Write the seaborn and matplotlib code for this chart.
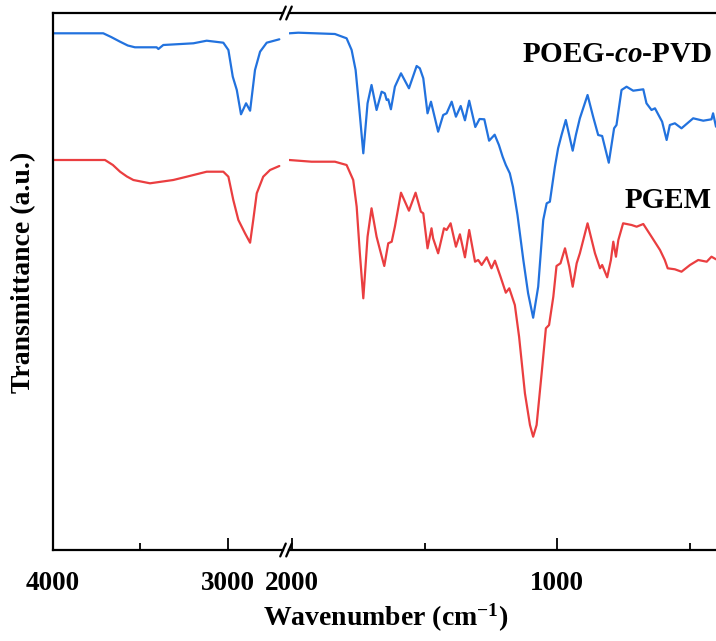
import matplotlib
matplotlib.use("Agg")
import matplotlib.pyplot as plt
import seaborn as sns
import pandas as pd

# ---------------- data ----------------
# high-wavenumber region (4000 - ~2680 cm-1)
wn_left_poeg = [4000, 3710, 3665, 3614, 3570, 3529, 3405, 3395, 3367, 3195, 3119, 3024, 2995, 2970,
                2947, 2923, 2894, 2871, 2843, 2814, 2776, 2704]
t_left_poeg = [516.7, 516.7, 513, 508.3, 504.5, 502.7, 502.7, 501, 505, 506.7, 509.3, 507.3, 500, 473.3,
               460, 435.7, 446.7, 439.3, 480, 498.3, 507.3, 510.7]

wn_left_pgem = [4000, 3700, 3655, 3614, 3575, 3538, 3443, 3310, 3233, 3119, 3024, 2995, 2967, 2938,
                2900, 2871, 2853, 2833, 2796, 2757, 2704]
t_left_pgem = [390, 390, 385, 378.3, 373.5, 370, 366.7, 370, 373.3, 378.3, 378.3, 373.3, 350, 330,
               316.7, 307.3, 330, 356.7, 373.3, 380, 384]

# fingerprint region (~2010 - 400 cm-1)
wn_right_poeg = [2010, 1976, 1838, 1794, 1775, 1760, 1748, 1731, 1715, 1700, 1681, 1662,
                 1650, 1643, 1637, 1627, 1612, 1589, 1559, 1530, 1518, 1505, 1489, 1476,
                 1449, 1430, 1417, 1398, 1382, 1364, 1348, 1332, 1309, 1293, 1275, 1257,
                 1236, 1220, 1206, 1194, 1179, 1167, 1150, 1128, 1110, 1091, 1072, 1053,
                 1040, 1028, 1009, 997, 984, 968, 942, 930, 915, 886, 865, 846, 831, 806,
                 786, 777, 758, 739, 714, 676, 664, 645, 632, 605, 588, 576, 557, 532,
                 488, 450, 419, 413, 402]
t_right_poeg = [516.7, 517.3, 516, 511.7, 500, 480, 446.7, 396.7, 446.7, 465, 440, 458.3,
                456.7, 450, 450.7, 440.7, 463.3, 476.7, 461.7, 484, 481.7, 471.7, 436.7, 448.3,
                418.3, 435, 436.7, 448.3, 433.3, 444, 429.7, 449.3, 423, 431, 430.7, 409.3,
                415.3, 405, 393.3, 385, 376.7, 363, 335, 290, 256.7, 232.3, 263.3, 330,
                346.7, 348.3, 383.3, 401.7, 415, 430, 399.3, 415, 431.7, 455, 433.3, 415, 414, 387.3,
                421.7, 425, 460, 463.3, 459.3, 460.7, 446.7, 440, 441.7, 428.3, 410, 425, 426.7, 421.7,
                431.7, 429.3, 430.7, 436.7, 423.3]

wn_right_pgem = [2010, 1926, 1838, 1794, 1769, 1756, 1744, 1731, 1715, 1700, 1681, 1668,
                 1652, 1637, 1624, 1612, 1589, 1559, 1534, 1514, 1505, 1489, 1474, 1468,
                 1449, 1427, 1417, 1402, 1382, 1367, 1348, 1332, 1310, 1298, 1285, 1266,
                 1248, 1235, 1214, 1194, 1181, 1160, 1144, 1122, 1103, 1091, 1078, 1059,
                 1043, 1031, 1015, 1003, 988, 971, 955, 942, 927, 915, 886, 858, 839, 831,
                 812, 798, 789, 779, 770, 752, 720, 701, 676, 645, 613, 595, 584, 557,
                 532, 500, 469, 437, 419, 402]
t_right_pgem = [390, 388.3, 388.3, 385, 370, 343.3, 296.7, 251.7, 313.3, 341.7, 313.3, 300,
                284, 306.7, 308.3, 323.3, 357.3, 339.3, 357.3, 338.3, 336.7, 301.7, 321.7, 311.7,
                296.7, 321.7, 320, 326.7, 303.3, 315.7, 292.7, 320, 288.3, 290, 285, 292.7,
                281.7, 289.3, 273.3, 257.3, 261.7, 245, 213.3, 156.7, 125, 113.3, 125, 176.7,
                221.7, 225, 253.3, 284, 286.7, 301.7, 283.3, 263.3, 286.7, 296.7, 326.7, 296.7, 281.7, 285,
                272.7, 290, 308.3, 293.3, 310, 326.7, 325, 323.3, 326, 313.3, 300, 290, 281.7, 280.7,
                278.3, 285, 290, 288.3, 293.3, 290.7]

series_names = ["POEG-co-PVD", "PGEM"]
label_poeg = r"POEG-$\mathbfit{co}$-PVD"
label_pgem = "PGEM"
xticks_left = [4000, 3000]
xticks_right = [2000, 1000]
minor_left = [3500]
minor_right = [1500, 500]

# ---------------- style ----------------
sns.set_style("white")
plt.rcParams["font.family"] = ["Liberation Serif", "DejaVu Serif"]
plt.rcParams["font.weight"] = "bold"
plt.rcParams["text.color"] = "black"
plt.rcParams["axes.labelcolor"] = "black"
plt.rcParams["xtick.color"] = "black"
plt.rcParams["ytick.color"] = "black"
plt.rcParams["mathtext.fontset"] = "custom"
plt.rcParams["mathtext.rm"] = "Liberation Serif:bold"
plt.rcParams["mathtext.it"] = "Liberation Serif:italic:bold"
plt.rcParams["mathtext.bf"] = "Liberation Serif:bold"
plt.rcParams["mathtext.bfit"] = "Liberation Serif:italic:bold"

BLUE = "#2272DE"
RED = "#EA3E40"

W, H = 716, 641
fig = plt.figure(figsize=(W / 100, H / 100), dpi=100)
bottom = 1 - 550 / H
height = (550 - 13) / H
axL = fig.add_axes([52.5 / W, bottom, (283 - 52.5) / W, height])
axR = fig.add_axes([289 / W, bottom, (716 - 289) / W, height])

def frame(wn, t, name):
    return pd.DataFrame({"wn": wn, "T": t, "sample": name})

dfL = pd.concat([frame(wn_left_poeg, t_left_poeg, series_names[0]),
                 frame(wn_left_pgem, t_left_pgem, series_names[1])])
dfR = pd.concat([frame(wn_right_poeg, t_right_poeg, series_names[0]),
                 frame(wn_right_pgem, t_right_pgem, series_names[1])])
pal = {series_names[0]: BLUE, series_names[1]: RED}

for ax, df in [(axL, dfL), (axR, dfR)]:
    sns.lineplot(data=df, x="wn", y="T", hue="sample", palette=pal, sort=False,
                 estimator=None, linewidth=1.6, legend=False, ax=ax)
    ax.set_ylim(0, 537)
    ax.set_xlabel("")
    ax.set_ylabel("")
    ax.set_yticks([])
    for s in ax.spines.values():
        s.set_linewidth(1.6)
        s.set_color("black")
    ax.spines["right"].set_visible(False)
    ax.tick_params(axis="x", which="major", direction="in", length=9, width=1.3,
                   labelsize=19.5, pad=15, bottom=True, top=False, colors="black")
    ax.tick_params(axis="x", which="minor", direction="in", length=5, width=1.3,
                   bottom=True, top=False, colors="black")

axL.set_xlim(4000, 2683)
axR.set_xlim(2011, 402)
axR.spines["left"].set_visible(False)
axR.tick_params(axis="y", left=False)
axL.set_xticks(xticks_left)
axL.set_xticks(minor_left, minor=True)
axR.set_xticks(xticks_right)
axR.set_xticks(minor_right, minor=True)
axL.set_xticklabels([str(v) for v in xticks_left], fontweight="bold", color="black")
axR.set_xticklabels([str(v) for v in xticks_right], fontweight="bold", color="black")

# break marks
kw = dict(color="black", lw=1.6, clip_on=False)
for ax, x0 in [(axL, 1.0), (axR, 0.0)]:
    tr = ax.transAxes
    wfrac = ax.get_position().width
    dx = 0.012 / wfrac * 0.322
    for y0 in (0.0, 1.0):
        ax.plot([x0 - dx, x0 + dx], [y0 - 0.012, y0 + 0.012], transform=tr, **kw)

# annotations
axR.text(417, 495, label_poeg, ha="right", va="center", fontsize=21, fontweight="bold",
         color="black")
axR.text(417, 350, label_pgem, ha="right", va="center", fontsize=21, fontweight="bold",
         color="black")

fig.text(386 / W, 1 - 618 / H, r"Wavenumber (cm$^{\mathbf{-1}}$)", ha="center", va="center",
         fontsize=20, fontweight="bold", color="black")
fig.text(24 / W, 1 - 272 / H, "Transmittance (a.u.)", ha="center", va="center",
         rotation=90, fontsize=20, fontweight="bold", color="black")

fig.savefig("out.png", dpi=100)
